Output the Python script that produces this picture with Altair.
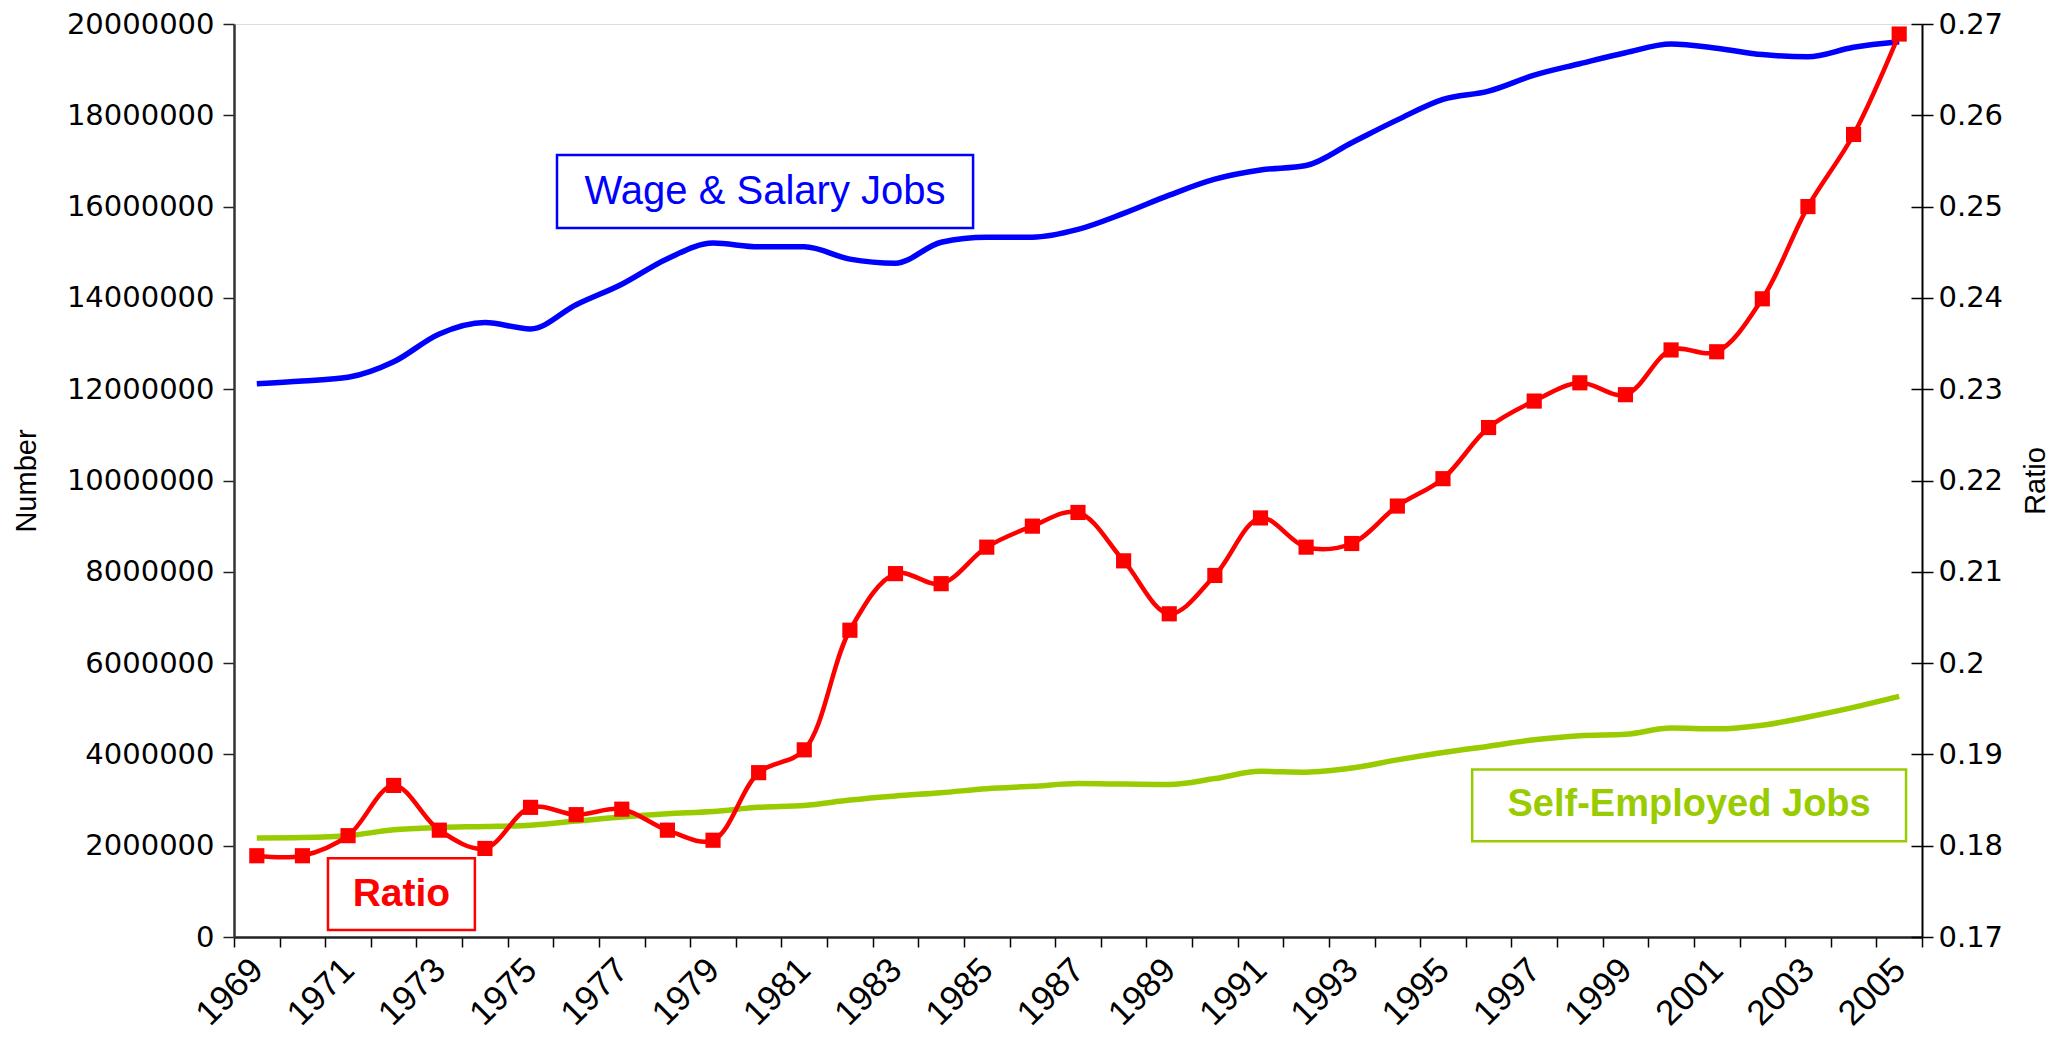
import altair as alt
import pandas as pd

years = list(range(1969, 2006))
wage_salary = [12.12, 12.18, 12.26, 12.60, 13.21, 13.46, 13.32, 13.85, 14.30, 14.86,
               15.20, 15.12, 15.12, 14.85, 14.76, 15.22, 15.33, 15.33, 15.50, 15.85,
               16.25, 16.60, 16.80, 16.90, 17.40, 17.90, 18.35, 18.53, 18.88, 19.13,
               19.37, 19.56, 19.47, 19.33, 19.28, 19.49, 19.61]
self_employed = [2.17, 2.18, 2.22, 2.35, 2.40, 2.42, 2.45, 2.54, 2.63, 2.70,
                 2.75, 2.84, 2.88, 3.00, 3.09, 3.16, 3.25, 3.30, 3.36, 3.35,
                 3.34, 3.47, 3.63, 3.61, 3.70, 3.88, 4.04, 4.18, 4.32, 4.41,
                 4.44, 4.58, 4.56, 4.64, 4.82, 5.03, 5.27]
ratio = [0.1789, 0.1789, 0.1811, 0.1866, 0.1817, 0.1797, 0.1842, 0.1834, 0.1840, 0.1817,
         0.1806, 0.1880, 0.1905, 0.2036, 0.2098, 0.2087, 0.2127, 0.2150, 0.2165, 0.2112,
         0.2054, 0.2096, 0.2159, 0.2127, 0.2131, 0.2172, 0.2202, 0.2258, 0.2287, 0.2307,
         0.2294, 0.2343, 0.2341, 0.2399, 0.2500, 0.2579, 0.2689]

left_ticks = [0, 2000000, 4000000, 6000000, 8000000, 10000000, 12000000,
              14000000, 16000000, 18000000, 20000000]
right_ticks = [0.17, 0.18, 0.19, 0.20, 0.21, 0.22, 0.23, 0.24, 0.25, 0.26, 0.27]

# annotation boxes (data coordinates: year, number)
box_text = ["Wage & Salary Jobs", "Self-Employed Jobs", "Ratio"]
box_x1 = [1975.58, 1995.64, 1970.56]
box_x2 = [1984.70, 2005.15, 1973.78]
box_y1 = [15530000, 2100000, 153000]
box_y2 = [17130000, 3670000, 1726000]
box_color = ["#0000FF", "#99CC00", "#FF0000"]
box_weight = ["normal", "bold", "bold"]
box_size = [40, 38, 39]

df = pd.DataFrame({
    "year": years,
    "wage": [v * 1e6 for v in wage_salary],
    "self": [v * 1e6 for v in self_employed],
    "ratio": ratio,
})

W, H = 1688, 913
XDOM = [years[0] - 0.5, years[-1] + 0.5]
x_vals = sorted([y - 0.5 for y in years] + [years[-1] + 0.5] + years[::2])

NARROW = "Liberation Sans Narrow, Arial Narrow, Liberation Sans, Arial"
WIDE = "DejaVu Sans, Verdana, sans-serif"
SANS = "Liberation Sans, Arial, Helvetica, sans-serif"

x_scale = alt.Scale(domain=XDOM, nice=False, zero=False)
x_axis = alt.Axis(
    values=x_vals, title=None, grid=False,
    labelExpr="datum.value % 2 == 1 ? format(datum.value, 'd') : ''",
    labelAngle=315, labelAlign="right", labelBaseline="middle",
    labelFont=NARROW, labelFontSize=35, labelColor="black",
    labelPadding=17, labelOverlap=False, labelBound=False, labelFlush=False,
    tickSize=10, tickColor="black", tickWidth=1.5,
    tickOpacity={"condition": {"test": "datum.value % 1 == 0", "value": 0}, "value": 1},
    domainColor="#222222", domainWidth=2.5,
)

yl_scale = alt.Scale(domain=[0, 20000000], nice=False, zero=False)
yr_scale = alt.Scale(domain=[0.17, 0.27], nice=False, zero=False)

left_axis = alt.Axis(
    values=left_ticks, format="d", title="Number", grid=False, orient="left",
    labelFont=WIDE, labelFontSize=29, labelColor="black", labelPadding=9,
    tickSize=11, tickColor="#222222", tickWidth=1.5,
    domainColor="#333333", domainWidth=2.5,
    titleFont=NARROW, titleFontSize=29, titleFontWeight="normal", titleColor="black",
    titleAngle=270, titleX=-208, titleY=H / 2, titleAlign="center", titleBaseline="middle",
)
right_axis = alt.Axis(
    values=right_ticks, format=".2~f", title="Ratio", grid=False, orient="right",
    labelFont=WIDE, labelFontSize=29, labelColor="black", labelPadding=5,
    tickSize=11, tickColor="black", tickWidth=1.5,
    domainColor="black", domainWidth=2,
    titleFont=NARROW, titleFontSize=29, titleFontWeight="normal", titleColor="black",
    titleAngle=270, titleX=113, titleY=H / 2, titleAlign="center", titleBaseline="middle",
)
# inner half of the crossing ticks on the right axis
right_inner = alt.Axis(
    values=right_ticks, labels=False, title=None, grid=False, orient="right",
    offset=-11, domain=False, tickSize=11, tickColor="black", tickWidth=1.5,
)


def X(field):
    return alt.X(field, scale=x_scale, axis=x_axis)


def YL(field):
    return alt.Y(field, scale=yl_scale, axis=left_axis)


def YR(field, ax=right_axis):
    return alt.Y(field, scale=yr_scale, axis=ax)


base = alt.Chart(df)

wage_line = base.mark_line(color="#0000FF", strokeWidth=5.5, interpolate="monotone").encode(
    x=X("year:Q"), y=YL("wage:Q")
)
self_line = base.mark_line(color="#99CC00", strokeWidth=5.5, interpolate="monotone").encode(
    x=X("year:Q"), y=YL("self:Q")
)

layers = [wage_line, self_line]
for i in range(len(box_text)):
    bdf = pd.DataFrame({
        "year": [box_x1[i]], "x2": [box_x2[i]], "wage": [box_y1[i]], "y2": [box_y2[i]],
        "xm": [(box_x1[i] + box_x2[i]) / 2], "ym": [(box_y1[i] + box_y2[i]) / 2],
        "t": [box_text[i]],
    })
    rect = alt.Chart(bdf).mark_rect(fill="white", stroke=box_color[i], strokeWidth=2.5).encode(
        x=X("year:Q"), x2="x2:Q", y=YL("wage:Q"), y2="y2:Q",
    )
    txt = alt.Chart(bdf).mark_text(
        color=box_color[i], font=SANS, fontSize=box_size[i], fontWeight=box_weight[i],
        align="center", baseline="middle",
    ).encode(x=X("xm:Q"), y=YL("ym:Q"), text="t:N")
    layers += [rect, txt]

left = alt.layer(*layers)

ratio_line = base.mark_line(color="#FF0000", strokeWidth=4.5, interpolate="catmull-rom").encode(
    x=X("year:Q"), y=YR("ratio:Q")
)
ratio_pts = base.mark_point(shape="square", filled=True, color="#FF0000", size=230, opacity=1).encode(
    x=X("year:Q"), y=YR("ratio:Q", right_inner)
)
right = alt.layer(ratio_line, ratio_pts).resolve_axis(y="independent")

chart = alt.layer(left, right).resolve_scale(y="independent").properties(
    width=W, height=H,
    autosize=alt.AutoSizeParams(type="none"),
    padding={"left": 226, "top": 16, "right": 129, "bottom": 97},
).configure_view(stroke="#7a7a7a", strokeWidth=2.5).configure(background="white")

chart.save("out.html", embed_options={"renderer": "svg", "actions": False})
